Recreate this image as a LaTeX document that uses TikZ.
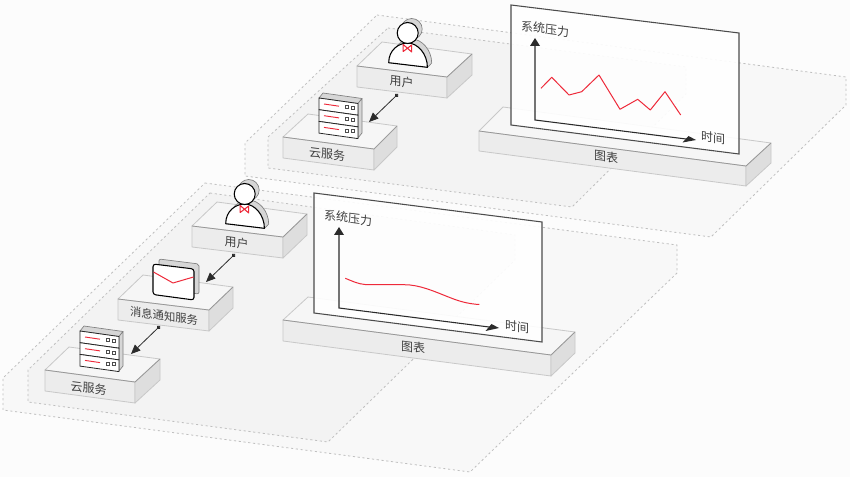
\documentclass[tikz,border=0pt]{standalone}
\usepackage{fontspec}
\setmainfont{Noto Sans CJK SC}
\usetikzlibrary{arrows.meta,calc}
\definecolor{bgc}{HTML}{FCFCFC}
\definecolor{outerc}{HTML}{F8F8F8}
\definecolor{innerc}{HTML}{F3F3F3}
\definecolor{topc}{HTML}{F6F6F6}
\definecolor{frontc}{HTML}{ECECEC}
\definecolor{sidec}{HTML}{DEDEDE}
\definecolor{edgec}{HTML}{C8C8C8}
\definecolor{redc}{HTML}{EE2A3A}
\definecolor{inkc}{HTML}{2B2B2B}
\definecolor{shadec}{HTML}{D6D6D6}
\tikzset{
  zoneout/.style={fill=outerc,draw=black!25,line width=.6pt,dash pattern=on 1.6pt off 2pt},
  zonein/.style={fill=innerc,draw=black!25,line width=.6pt,dash pattern=on 1.6pt off 2pt},
  blocktop/.style={fill=topc,draw=edgec,line width=.6pt,line join=round},
  blockfront/.style={fill=frontc,draw=edgec,line width=.6pt,line join=round},
  blockside/.style={fill=sidec,draw=edgec,line width=.6pt,line join=round},
  blocktopedge/.style={draw=black!42,line width=.5pt},
  lab/.style={text=black!75,font=\fontsize{9pt}{9pt}\selectfont,inner sep=0pt,yslant=-0.13},
  labsmall/.style={lab,font=\fontsize{8.5pt}{8.5pt}\selectfont},
  panelbox/.style={fill=white,fill opacity=.9,draw=black!70,line width=.8pt},
  axisline/.style={draw=inkc,line width=.8pt},
  axishead/.style={fill=inkc,draw=none},
  redline/.style={draw=redc,line width=.75pt,line join=round},
  flow/.style={draw=inkc,line width=.6pt,{Circle[length=3pt]}-{Triangle[length=7pt,width=6pt]}},
  icon/.style={draw=black,line width=.8pt,fill=white,line join=round},
  iconthin/.style={draw=black!85,line width=.6pt,fill=white,line join=round},
  iconshade/.style={draw=black!50,line width=.5pt,fill=shadec,line join=round},
}
\newcommand\isoblock[5]{%
  \path[blockfront] (#4) -- (#3) -- ($(#3)+(0,#5)$) -- ($(#4)+(0,#5)$) -- cycle;
  \path[blockside] (#3) -- (#2) -- ($(#2)+(0,#5)$) -- ($(#3)+(0,#5)$) -- cycle;
  \path[blocktop] (#1) -- (#2) -- (#3) -- (#4) -- cycle;
  \draw[blocktopedge] (#4) -- (#3) -- (#2);
}
\newcommand\personicon[2]{%
  \begin{scope}[shift={(#1,#2)}]
    \path[iconshade] (4,-4) circle (10.5);
    \path[iconshade] (-15,25) .. controls (-15,13) and (-5,6) .. (4,6) .. controls (14,6) and (24,17) .. (24,30) -- (20,34.3) -- (-19,29.7) -- cycle;
    \path[icon] (-19,29.7) .. controls (-19,17) and (-9,10) .. (0,10) .. controls (10,10) and (19.7,21) .. (19.7,34.3) -- cycle;
    \path[icon] (0,0) circle (10.5);
    \draw[draw=redc,line width=.8pt,line join=round] (-4.5,11.5) -- (4,19) -- (4,12) -- (-4.5,18.5) -- cycle;
  \end{scope}}
\newcommand\servericon[2]{%
  \begin{scope}[shift={(#1,#2)}]
    \path[iconshade] (0,0) -- (4,-5) -- (43,.5) -- (39,5.5) -- cycle;
    \path[iconshade] (39,5.5) -- (43,.5) -- (43,35) -- (39,40) -- cycle;
    \foreach \dy in {0,11.7,23.4}{
      \path[iconthin] (0,\dy) -- (39,5.5+\dy) -- (39,17.2+\dy) -- (0,11.7+\dy) -- cycle;
      \draw[draw=redc,line width=.7pt] (5,6+\dy) -- (20,8.2+\dy);
      \draw[draw=black!70,line width=.5pt,fill=white] (26,7.6+\dy) rectangle ++(3,3);
      \draw[draw=black!70,line width=.5pt,fill=white] (32.5,8.4+\dy) rectangle ++(3,3);
    }
  \end{scope}}
\begin{document}
\begin{tikzpicture}[x=.75pt,y=-.75pt]
\useasboundingbox (0,0) rectangle (850,477);
\fill[bgc] (0,0) rectangle (850,477);
% upper zones
\path[zoneout] (377,15) -- (846,77) -- (846,105) -- (711,237) -- (245,176) -- (245,143) -- cycle;
\path[zonein] (388,28) -- (686,67) -- (686,94) -- (572,207) -- (268,168) -- (268,137) -- cycle;
% lower zones
\path[zoneout] (205,183) -- (677,245) -- (677,273) -- (470,472) -- (3,410) -- (3,378) -- cycle;
\path[zonein] (210,193) -- (515,235) -- (515,260) -- (328,442) -- (28,402) -- (28,370) -- cycle;
% upper blocks
\isoblock{382,42}{472,54}{447,77}{357,66}{21}
\isoblock{308,114}{397,126}{374,149}{283,137}{21}
\isoblock{503,107}{771,143}{746,166}{479,131}{20}
% lower blocks
\isoblock{217,202}{307,214}{283,237}{192,226}{21}
\isoblock{143,275}{233,287}{209,310}{118,299}{21}
\isoblock{69,347}{160,359}{135,382}{45,370}{21}
\isoblock{308,297}{575,332}{551,355}{283,320}{21}
% block labels
\node[lab] (uUser) at (401.5,82) {用户};
\node[lab] (uCloud) at (327,154) {云服务};
\node[lab] (uChart) at (606,157) {图表};
\node[lab] (lUser) at (236.5,243) {用户};
\node[labsmall] (lMsg) at (164,316) {消息通知服务};
\node[lab] (lCloud) at (88.5,388) {云服务};
\node[lab] (lChart) at (413,347) {图表};
% icons upper
\personicon{407.7}{33}
\servericon{319}{98}
% icons lower
\personicon{244.7}{194}
\servericon{80}{331}
% envelope
\path[iconshade,rounded corners=1.5pt] (159,259) -- (199,264) -- (199,294) -- (159,289) -- cycle;
\path[icon,rounded corners=2pt] (153,264) -- (194,269) -- (194,300) -- (153,294.5) -- cycle;
\draw[redline] (153.5,272) -- (173,283) -- (193.5,277);
% connectors
\coordinate (uUserOut) at (398,94);
\coordinate (uCloudIn) at (369,122);
\coordinate (lUserOut) at (235,254);
\coordinate (lMsgIn) at (206,282);
\coordinate (lMsgOut) at (160,326);
\coordinate (lCloudIn) at (131,354);
\draw[flow] (uUserOut) -- (uCloudIn);
\draw[flow] (lUserOut) -- (lMsgIn);
\draw[flow] (lMsgOut) -- (lCloudIn);
% upper panel
\path[panelbox] (511,5) -- (739,33) -- (739,154) -- (511,125) -- cycle;
\draw[axisline] (535,43) -- (535,120) -- (690,139.5);
\path[axishead] (535,38) -- (540,46) -- (530,46) -- cycle;
\path[axishead] (696,140) -- (682.5,142.5) -- (688.5,136) -- cycle;
\draw[redline] (541,88.3) -- (551.7,77.3) -- (569,95) -- (581.7,91.7) -- (599,75) -- (620,109.3) -- (637.7,99.3) -- (650.3,110) -- (665,91.7) -- (680.7,115);
\node[lab] (uYlab) at (545,29) {系统压力};
\node[lab] (uXlab) at (713,138) {时间};
% lower panel
\path[panelbox] (314,193) -- (542,222) -- (542,342) -- (314,313) -- cycle;
\draw[axisline] (339,232) -- (339,308) -- (493,327.5);
\path[axishead] (339,227) -- (344,235) -- (334,235) -- cycle;
\path[axishead] (499,328) -- (485.5,331) -- (491.5,324) -- cycle;
\draw[redline] (345.3,278.3) .. controls (352,281) and (358,284) .. (365,284.5) .. controls (375,285) and (395,284) .. (410,285) .. controls (425,286.5) and (440,294) .. (455,299.5) .. controls (462,302) and (470,304) .. (479.3,304.5);
\node[lab] (lYlab) at (348,218) {系统压力};
\node[lab] (lXlab) at (517,327) {时间};
\end{tikzpicture}
\end{document}
